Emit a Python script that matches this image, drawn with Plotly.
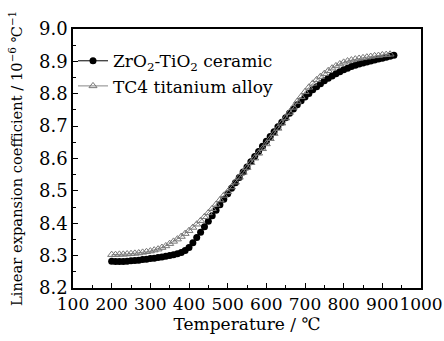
import plotly.graph_objects as go

temps = list(range(200, 940, 10))

ceramic = [8.283, 8.282, 8.282, 8.282, 8.283, 8.284, 8.285, 8.286, 8.288, 8.289,
           8.291, 8.292, 8.294, 8.296, 8.298, 8.300, 8.303, 8.306, 8.310, 8.316,
           8.325, 8.340, 8.356, 8.372, 8.389, 8.406, 8.423, 8.440, 8.457, 8.474,
           8.491, 8.508, 8.525, 8.541, 8.558, 8.574, 8.590, 8.606, 8.622, 8.638,
           8.653, 8.668, 8.683, 8.698, 8.712, 8.726, 8.740, 8.753, 8.766, 8.778,
           8.790, 8.801, 8.812, 8.822, 8.831, 8.840, 8.848, 8.855, 8.862, 8.868,
           8.874, 8.879, 8.884, 8.888, 8.892, 8.895, 8.898, 8.901, 8.904, 8.907,
           8.910, 8.913, 8.916, 8.919]

tc4_temps = list(range(200, 930, 10))
tc4 = [8.303, 8.303, 8.304, 8.304, 8.305, 8.306, 8.307, 8.308, 8.310, 8.312,
       8.314, 8.317, 8.320, 8.325, 8.330, 8.337, 8.344, 8.351, 8.359, 8.368,
       8.377, 8.387, 8.397, 8.408, 8.420, 8.432, 8.445, 8.458, 8.472, 8.486,
       8.497, 8.512, 8.527, 8.542, 8.557, 8.572, 8.587, 8.601, 8.616, 8.630,
       8.645, 8.661, 8.677, 8.693, 8.709, 8.725, 8.742, 8.758, 8.776, 8.791,
       8.806, 8.820, 8.832, 8.843, 8.853, 8.862, 8.871, 8.879, 8.886, 8.892,
       8.897, 8.901, 8.904, 8.907, 8.909, 8.911, 8.913, 8.915, 8.917, 8.918,
       8.920, 8.921, 8.922]

x_ticks = [100, 200, 300, 400, 500, 600, 700, 800, 900, 1000]
y_ticks = [8.2, 8.3, 8.4, 8.5, 8.6, 8.7, 8.8, 8.9, 9.0]

FONT = "DejaVu Serif, Liberation Serif, serif"

fig = go.Figure()
fig.add_trace(go.Scatter(
    x=temps, y=ceramic, mode="lines+markers",
    name="ZrO<sub>2</sub>-TiO<sub>2</sub> ceramic",
    line=dict(color="black", width=1),
    marker=dict(symbol="circle", size=7, color="black"),
))
fig.add_trace(go.Scatter(
    x=tc4_temps, y=tc4, mode="lines+markers",
    name="TC4 titanium alloy",
    line=dict(color="#888888", width=1),
    marker=dict(symbol="triangle-up-open", size=7, color="#777777",
                line=dict(width=1)),
))

fig.update_layout(
    width=444, height=341,
    margin=dict(l=73, r=23, t=29, b=53, autoexpand=False),
    paper_bgcolor="white", plot_bgcolor="white",
    font=dict(family=FONT, size=17, color="black"),
    showlegend=True,
    legend=dict(x=0.0, y=0.945, xanchor="left", yanchor="top",
                bgcolor="rgba(0,0,0,0)", font=dict(size=17, family=FONT),
                itemwidth=30, tracegroupgap=0),
)
fig.update_xaxes(
    automargin=False,
    range=[100, 1000], tickvals=x_ticks, ticktext=[str(v) for v in x_ticks],
    tickangle=0,
    ticks="inside", ticklen=5, tickwidth=1, tickcolor="black",
    minor=dict(ticks="inside", ticklen=3, dtick=50, tickcolor="black"),
    showline=True, linecolor="black", linewidth=1.5, mirror=True,
    showgrid=False, zeroline=False,
    title=dict(text="Temperature / ℃", font=dict(size=17), standoff=2),
    tickfont=dict(size=17),
)
fig.update_yaxes(
    automargin=False,
    range=[8.2, 9.0], tickvals=y_ticks, ticktext=[f"{v:.1f}" for v in y_ticks],
    ticks="inside", ticklen=5, tickwidth=1, tickcolor="black",
    minor=dict(ticks="inside", ticklen=3, dtick=0.05, tickcolor="black"),
    showline=True, linecolor="black", linewidth=1.5, mirror=True,
    showgrid=False, zeroline=False,
    title=dict(text="Linear expansion coefficient / 10<sup>−6</sup> ℃<sup>−1</sup>",
               font=dict(size=14.7, family=FONT), standoff=13),
    tickfont=dict(size=18),
)

fig.write_html(
    "out.html",
    config={"displayModeBar": False},
    post_script="document.body.style.margin='0';"
                "document.body.style.overflow='hidden';",
)
